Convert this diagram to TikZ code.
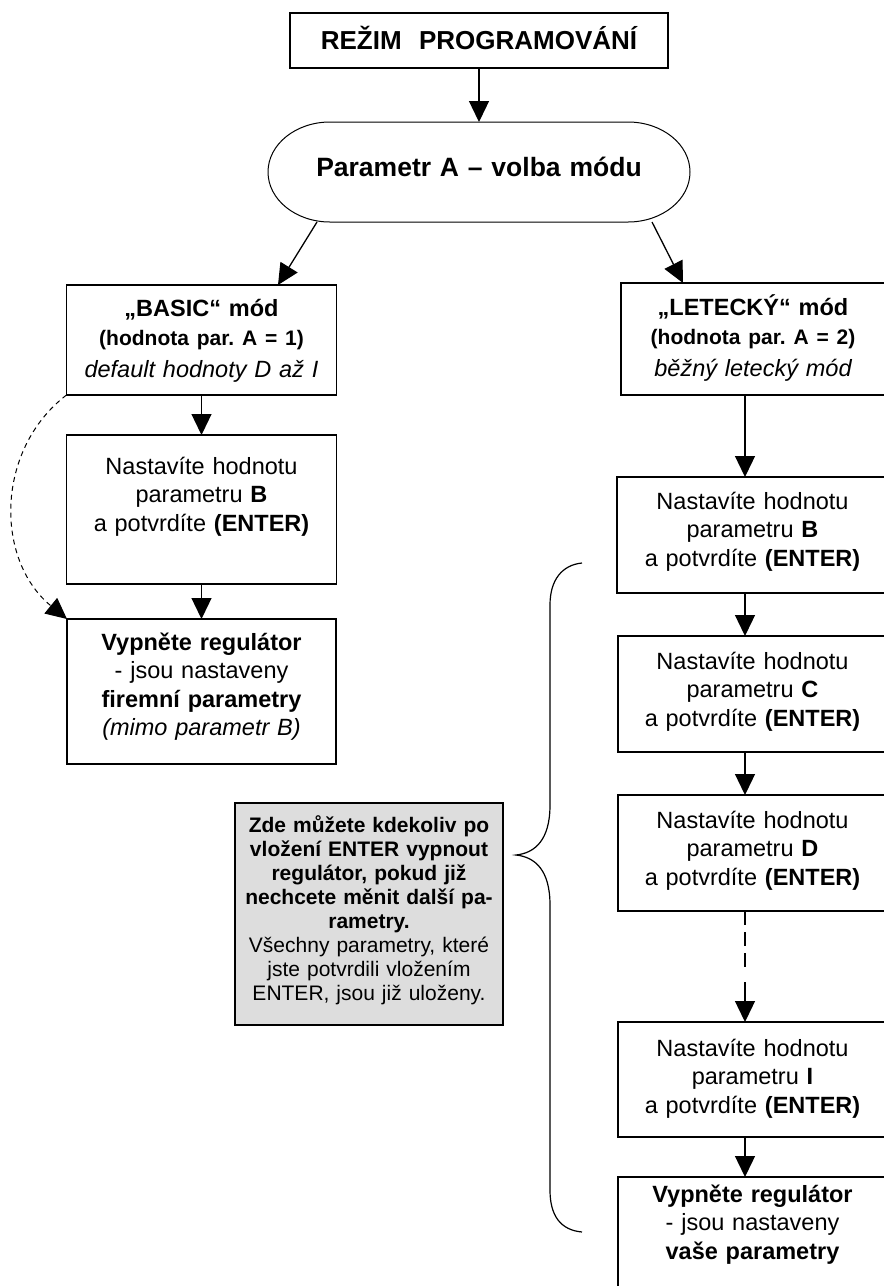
\documentclass[tikz,border=0pt]{standalone}
\usepackage{fontspec}
\setmainfont{Liberation Sans}
\usetikzlibrary{arrows.meta}
\definecolor{notegray}{RGB}{221,221,221}
\frenchspacing
\begin{document}
\begin{tikzpicture}[x=1pt,y=-1pt,
  box/.style={draw, line width=1.3pt, inner sep=0pt, outer sep=0pt},
  txt/.style={inner sep=0pt, outer sep=0pt, text width=440pt, align=center, anchor=base,
              font=\fontsize{23.5}{28.5}\selectfont},
  arr/.style={line width=1.3pt, -{Triangle[length=21pt,width=20pt]}},
]
\useasboundingbox (0,0) rectangle (884,1286);
\clip (0,0) rectangle (884,1286);

% title
\node[box, line width=2.2pt, minimum width=378pt, minimum height=55pt] (title) at (479,40.5) {};
\node[txt, font=\fontsize{26}{30}\selectfont\bfseries] (titletxt) at (479,49) {REŽIM\ \ PROGRAMOVÁNÍ};

% stadium
\node[inner sep=0pt, outer sep=0pt, minimum width=422pt, minimum height=100pt] (ell) at (479,172) {};
\draw[line width=1pt] ([xshift=62pt]ell.north west) -- ([xshift=-62pt]ell.north east)
  arc[start angle=90, end angle=-90, x radius=62pt, y radius=50pt]
  -- ([xshift=62pt]ell.south west)
  arc[start angle=270, end angle=90, x radius=62pt, y radius=50pt] -- cycle;
\node[txt, font=\fontsize{26.5}{30}\selectfont\bfseries] (elltxt) at (479,176) {Parametr A – volba módu};

% left column
\node[box, minimum width=270pt, minimum height=110pt] (basic) at (201.5,340) {};
\node[txt] (basictxt) at (201.5,316.5) {{\bfseries „BASIC“ mód}\\{\fontsize{21}{28}\selectfont\bfseries (hodnota par. A = 1)}\\[4pt]{\itshape default hodnoty D až I}};

\node[box, minimum width=270pt, minimum height=149pt] (lb2) at (201.5,509.5) {};
\node[txt] (lb2txt) at (201.5,474) {Nastavíte hodnotu\\parametru \textbf{B}\\a potvrdíte \textbf{(ENTER)}};

\node[box, minimum width=269pt, minimum height=145pt] (lb3) at (201.5,691.5) {};
\node[txt] (lb3txt) at (201.5,650) {{\bfseries Vypněte regulátor}\\- jsou nastaveny\\{\bfseries firemní parametry}\\{\itshape (mimo parametr B)}};

% right column
\coordinate (ax) at (745,0);
\node[box, minimum width=268pt, minimum height=112pt] (lett) at (755,339) {};
\node[txt] (letttxt) at (753,315.5) {{\bfseries „LETECKÝ“ mód}\\{\fontsize{21}{28}\selectfont\bfseries (hodnota par. A = 2)}\\[4pt]{\itshape běžný letecký mód}};

\node[box, minimum width=272pt, minimum height=116pt] (rB) at (753,535) {};
\node[txt] (rBtxt) at (752.5,509) {Nastavíte hodnotu\\parametru \textbf{B}\\a potvrdíte \textbf{(ENTER)}};

\node[box, minimum width=271pt, minimum height=116pt] (rC) at (753.5,694) {};
\node[txt] (rCtxt) at (752.5,669) {Nastavíte hodnotu\\parametru \textbf{C}\\a potvrdíte \textbf{(ENTER)}};

\node[box, minimum width=271pt, minimum height=116pt] (rD) at (753.5,853) {};
\node[txt] (rDtxt) at (752.5,828) {Nastavíte hodnotu\\parametru \textbf{D}\\a potvrdíte \textbf{(ENTER)}};

\node[box, minimum width=271pt, minimum height=115pt] (rI) at (753.5,1079.5) {};
\node[txt] (rItxt) at (752.5,1056) {Nastavíte hodnotu\\parametru \textbf{I}\\a potvrdíte \textbf{(ENTER)}};

\node[box, minimum width=271pt, minimum height=130pt] (rF) at (753.5,1242) {};
\node[txt] (rFtxt) at (752.5,1202) {{\bfseries Vypněte regulátor}\\- jsou nastaveny\\{\bfseries vaše parametry}};

% note
\node[box, fill=notegray, minimum width=268pt, minimum height=222pt] (note) at (369,914) {};
\node[txt, text width=290pt, font=\fontsize{21}{24}\selectfont] (notetxt) at (369,832)
 {{\bfseries Zde můžete kdekoliv po\\vložení ENTER vypnout\\regulátor, pokud již\\nechcete měnit další pa-\\rametry.}\\Všechny parametry, které\\jste potvrdili vložením\\ENTER, jsou již uloženy.};

% brace
\draw[line width=1.2pt] (582,563) .. controls (562,565) and (550,580) .. (550,605) -- (550,805)
  .. controls (550,840) and (535,853) .. (516,855)
  .. controls (535,857) and (550,870) .. (550,905) -- (550,1190)
  .. controls (550,1215) and (560,1230) .. (582,1232);

% connectors
\draw[arr] (title.south) -- (ell.north);
\draw[arr] ([xshift=-162pt]ell.south) -- ([xshift=76.5pt]basic.north);
\draw[arr] ([xshift=173pt]ell.south) -- ([xshift=62pt]lett.north west);
\draw[arr] (basic.south) -- (lb2.north);
\draw[arr] (lb2.south) -- (lb3.north);
\draw[arr, line width=1pt, dash pattern=on 5pt off 4pt] (basic.south west) .. controls (-5,450) and (-5,560) .. (lb3.north west);

\draw[arr] (lett.south -| ax) -- (rB.north -| ax);
\draw[arr] (rB.south -| ax) -- (rC.north -| ax);
\draw[arr] (rC.south -| ax) -- (rD.north -| ax);
\coordinate (dashend) at (745,967);
\coordinate (arrstart) at (745,982);
\draw[line width=1.3pt, dash pattern=on 14pt off 7pt] (rD.south -| ax) -- (dashend);
\draw[arr] (arrstart) -- (rI.north -| ax);
\draw[arr] (rI.south -| ax) -- (rF.north -| ax);
\end{tikzpicture}
\end{document}
